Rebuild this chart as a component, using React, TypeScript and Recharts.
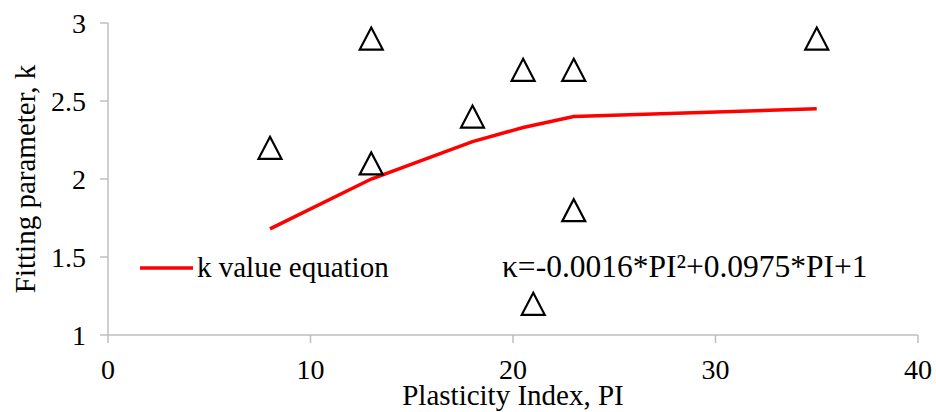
import { ComposedChart, Line, Scatter, XAxis, YAxis } from "recharts";

const piValues = [8, 13, 13, 18, 20.5, 21, 23, 23, 35];
const kMeasured = [2.2, 2.9, 2.1, 2.4, 2.7, 1.2, 2.7, 1.8, 2.9];

const fitPI = [8, 13, 18, 20.5, 23, 35];
const fitK = [1.68, 2.0, 2.24, 2.33, 2.4, 2.45];

const xTicks = [0, 10, 20, 30, 40];
const yTicks = [1, 1.5, 2, 2.5, 3];

const FONT = "'Liberation Serif', 'Times New Roman', serif";
const AXIS_GREY = "#bfbfbf";

const measured = piValues.map((x, i) => ({ x, k: kMeasured[i] }));
const fitted = fitPI.map((x, i) => ({ x, k: fitK[i] }));

function Triangle(props: { cx?: number; cy?: number }) {
  const { cx, cy } = props;
  if (cx == null || cy == null) return null;
  const w = 23;
  const h = 22;
  return (
    <path
      d={`M${cx},${cy - h / 2} L${cx + w / 2},${cy + h / 2} L${cx - w / 2},${cy + h / 2} Z`}
      fill="none"
      stroke="#000"
      strokeWidth={2.2}
    />
  );
}

type TickProps = { x?: number; y?: number; payload?: { value: number } };

function XTick({ x, y, payload }: TickProps) {
  return (
    <text x={x} y={y} dy="0.71em" textAnchor="middle" fill="#000" fontSize={28} fontFamily={FONT}>
      {payload?.value}
    </text>
  );
}

function YTick({ x, y, payload }: TickProps) {
  return (
    <text x={x} y={y} dy="0.355em" textAnchor="end" fill="#000" fontSize={28} fontFamily={FONT}>
      {payload?.value}
    </text>
  );
}

// legend + equation text box, laid over the plot like the Excel original
function LegendOverlay() {
  return (
    <svg
      width={936}
      height={412}
      style={{ position: "absolute", left: 0, top: 0, pointerEvents: "none" }}
    >
      <line x1={140} y1={268} x2={193} y2={268} stroke="#ff0000" strokeWidth={3.5} />
      <text x={197} y={277} fontFamily={FONT} fontSize={29} fill="#000">
        k value equation
      </text>
      <text x={502} y={277} fontFamily={FONT} fontSize={31.5} fill="#000">
        κ=-0.0016*PI²+0.0975*PI+1
      </text>
    </svg>
  );
}

export default function App() {
  return (
    <div
      style={{
        position: "fixed",
        left: 0,
        top: 0,
        width: 936,
        height: 412,
        background: "#fff",
        fontFamily: FONT,
      }}
    >
      <ComposedChart
        width={936}
        height={412}
        margin={{ top: 23, right: 18, bottom: 0, left: 0 }}
      >
        <XAxis
          type="number"
          dataKey="x"
          domain={[0, 40]}
          ticks={xTicks}
          height={77}
          tickSize={8}
          tickMargin={16}
          tick={<XTick />}
          tickLine={{ stroke: AXIS_GREY, strokeWidth: 1.5 }}
          axisLine={{ stroke: AXIS_GREY, strokeWidth: 1.5 }}
          label={{
            value: "Plasticity Index, PI",
            position: "insideBottom",
            offset: 7,
            fill: "#000",
            fontSize: 29,
            fontFamily: FONT,
          }}
        />
        <YAxis
          type="number"
          dataKey="k"
          domain={[1, 3]}
          ticks={yTicks}
          width={108}
          tickSize={8}
          tickMargin={14}
          tick={<YTick />}
          tickLine={{ stroke: AXIS_GREY, strokeWidth: 1.5 }}
          axisLine={{ stroke: AXIS_GREY, strokeWidth: 1.5 }}
          label={{
            value: "Fitting parameter, k",
            angle: -90,
            position: "insideLeft",
            offset: 25,
            fill: "#000",
            fontSize: 29,
            fontFamily: FONT,
            style: { textAnchor: "middle" },
          }}
        />
        <Scatter
          data={measured}
          dataKey="k"
          shape={<Triangle />}
          isAnimationActive={false}
        />
        <Line
          data={fitted}
          dataKey="k"
          stroke="#ff0000"
          strokeWidth={3.5}
          dot={false}
          activeDot={false}
          isAnimationActive={false}
        />
      </ComposedChart>
      <LegendOverlay />
    </div>
  );
}
